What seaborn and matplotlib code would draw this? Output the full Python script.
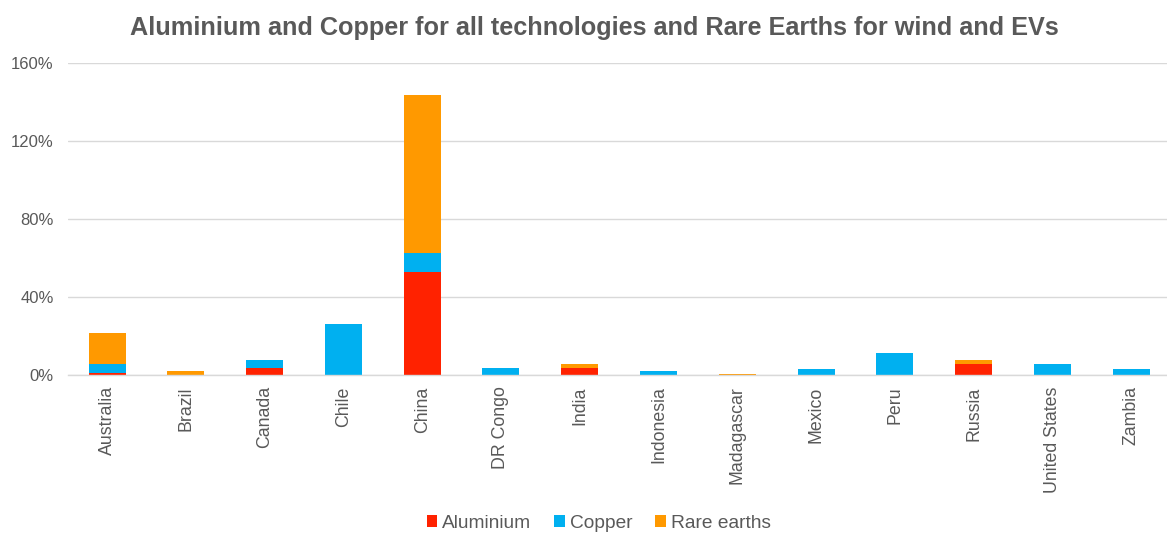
import matplotlib
matplotlib.use("Agg")
import matplotlib.pyplot as plt
import seaborn as sns
import pandas as pd
import numpy as np
from matplotlib.ticker import FuncFormatter
from matplotlib.patches import Patch

countries = ["Australia", "Brazil", "Canada", "Chile", "China", "DR Congo", "India",
             "Indonesia", "Madagascar", "Mexico", "Peru", "Russia", "United States", "Zambia"]
aluminium = [1.0, 0.0, 3.9, 0.0, 53.1, 0.0, 3.9, 0.0, 0.2, 0.0, 0.0, 5.6, 0.0, 0.0]
copper = [4.6, 0.0, 3.8, 26.4, 9.4, 3.9, 0.0, 2.1, 0.0, 3.0, 11.3, 0.0, 5.8, 3.1]
rare_earths = [16.0, 2.0, 0.0, 0.0, 81.1, 0.0, 1.9, 0.0, 0.3, 0.0, 0.0, 2.1, 0.0, 0.0]

series = ["Aluminium", "Copper", "Rare earths"]
colors = ["#FF2200", "#00B0F0", "#FF9900"]

sns.set_theme(style="white")
plt.rcParams["font.family"] = ["Liberation Sans", "DejaVu Sans"]
text_color = "#595959"

df = pd.DataFrame({"country": countries, "Aluminium": aluminium,
                   "Copper": copper, "Rare earths": rare_earths})
df["cum_al"] = df["Aluminium"]
df["cum_cu"] = df["cum_al"] + df["Copper"]
df["cum_re"] = df["cum_cu"] + df["Rare earths"]

fig = plt.figure(figsize=(11.67, 5.36), dpi=100)
ax = fig.add_axes([0.058, 0.30, 0.945, 0.5825])

for col, c in [("cum_re", colors[2]), ("cum_cu", colors[1]), ("cum_al", colors[0])]:
    sns.barplot(data=df, x="country", y=col, color=c, width=0.47, ax=ax,
                saturation=1, edgecolor="none", linewidth=0, order=countries)

ax.set_ylim(0, 160)
ax.set_yticks([0, 40, 80, 120, 160])
ax.yaxis.set_major_formatter(FuncFormatter(lambda v, p: f"{int(v)}%"))
ax.grid(axis="y", color="#D9D9D9", linewidth=1)
ax.set_axisbelow(True)
for s in ["top", "right", "left"]:
    ax.spines[s].set_visible(False)
ax.spines["bottom"].set_color("#D9D9D9")
ax.spines["bottom"].set_linewidth(1)
ax.set_xlabel("")
ax.set_ylabel("")
ax.set_xlim(-0.5, len(countries) - 0.5)
ax.tick_params(axis="x", labelrotation=90, labelsize=12.8, colors=text_color, length=0, pad=8)
ax.tick_params(axis="y", labelsize=12, colors=text_color, length=0, pad=10)

fig.text(0.509, 0.948, "Aluminium and Copper for all technologies and Rare Earths for wind and EVs",
         ha="center", va="center", fontsize=18.2, fontweight="bold", color=text_color)

handles = [Patch(facecolor=c, edgecolor="none") for c in colors]
fig.legend(handles, series, loc="center", bbox_to_anchor=(0.513, 0.024), ncol=3,
           frameon=False, fontsize=13.8, labelcolor=text_color, handlelength=0.55,
           handleheight=0.55, handletextpad=0.25, columnspacing=1.2)

fig.savefig("out.png", dpi=100)
